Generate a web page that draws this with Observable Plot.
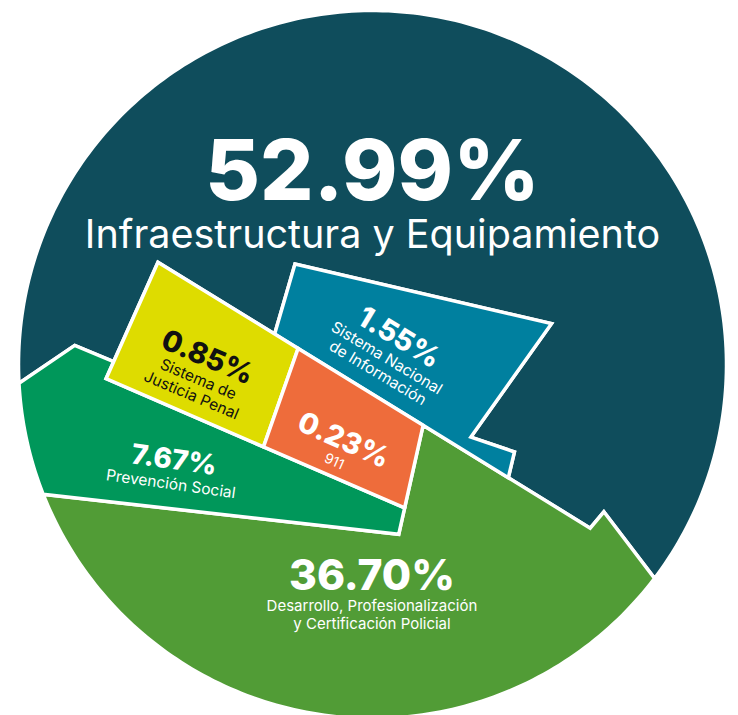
<!DOCTYPE html>
<html>
<head>
<meta charset="utf-8">
<script src="https://cdn.jsdelivr.net/npm/d3@7"></script>
<script src="https://cdn.jsdelivr.net/npm/@observablehq/plot@0.6"></script>
<style>
  html, body { margin: 0; padding: 0; background: #ffffff; }
  #chart { width: 738px; height: 715px; }
</style>
</head>
<body>
<div id="chart"></div>
<script>
// ---------------- data ----------------
const categories = [
  "Infraestructura y Equipamiento",
  "Desarrollo, Profesionalización y Certificación Policial",
  "Prevención Social",
  "Sistema Nacional de Información",
  "Sistema de Justicia Penal",
  "911"
];
const shares = [52.99, 36.70, 7.67, 1.55, 0.85, 0.23];
const labelLines = [
  ["Infraestructura y Equipamiento"],
  ["Desarrollo, Profesionalización", "y Certificación Policial"],
  ["Prevención Social"],
  ["Sistema Nacional", "de Información"],
  ["Sistema de", "Justicia Penal"],
  ["911"]
];

// ---------------- styles ----------------
const fillColors = ["#0f4d5c", "#519c36", "#00975a", "#00809f", "#dedc00", "#ee6c3b"];
const textColors = ["#ffffff", "#ffffff", "#ffffff", "#ffffff", "#111111", "#ffffff"];
const pctSize    = [84, 42.5, 28, 29, 29, 29];
const nameSize   = [39.5, 15, 15.5, 15.5, 15.5, 14];
const firstGap   = [1.22, 1.4, 1.3, 1.25, 1.25, 1.3];
const lineGap    = [1.15, 1.2, 1.15, 1.12, 1.12, 1.12];
const labelAngle = [0, 0, 8, 31, 23, 24];
const FONT = "Inter, 'Noto Sans', 'DejaVu Sans', sans-serif";

// ---------------- layout (unit circle, y pointing down) ----------------
const W = 738, H = 715, CX = 372, CY = 364, RPX = 354;
// which categories lie below the main crack (area of that side follows the data)
const belowCrack = [false, true, true, false, true, true];
const crackAngle = 31.6;
// secondary cuts: [point, angle in degrees]
const cuts = {
  YL: [[-0.611, -0.278], 114.0],
  V1: [[-0.213, -0.037], 109.4],
  R:  [[ 0.142,  0.176], 102.6],
  C:  [[-0.753,  0.040],  23.4],
  D:  [[-0.9375, 0.366],   6.4],
  T1: [[-1.000,  0.054], -34.2],
  T2: [[-0.841, -0.054],  22.8],
  E:  [[-0.219, -0.284],  13.1],
  BL: [[-0.219, -0.284], 106.2],
  BR: [[ 0.506, -0.116], 125.4],
  N1: [[ 0.278,  0.205],  18.9],
  N2: [[ 0.401,  0.247], 103.4],
  QA: [[ 0.605,  0.474], -50.0],
  QB: [[ 0.799,  0.607],  52.7]
};

// ---------------- geometry helpers ----------------
const rad = a => a * Math.PI / 180;
const mkLine = (p, a) => ({p, u: [Math.cos(rad(a)), Math.sin(rad(a))]});
function meet(l1, l2) {
  const [x1, y1] = l1.p, [a1, b1] = l1.u, [x2, y2] = l2.p, [a2, b2] = l2.u;
  const den = a1 * b2 - b1 * a2;
  const t = ((x2 - x1) * b2 - (y2 - y1) * a2) / den;
  return [x1 + t * a1, y1 + t * b1];
}
function onCircle(l, side) {
  const [px, py] = l.p, [ux, uy] = l.u;
  const b = px * ux + py * uy, c = px * px + py * py - 1;
  const t = -b + side * Math.sqrt(b * b - c);
  return [px + t * ux, py + t * uy];
}
function arc(p0, p1) {
  const a0 = Math.atan2(p0[1], p0[0]);
  let a1 = Math.atan2(p1[1], p1[0]);
  while (a1 <= a0) a1 += 2 * Math.PI;
  const n = Math.ceil((a1 - a0) / rad(1));
  return d3.range(n + 1).map(i => {
    const a = a0 + (a1 - a0) * i / n;
    return [Math.cos(a), Math.sin(a)];
  });
}

// main crack: its offset makes the segment below it match the summed shares
const lowerShare = d3.sum(shares.filter((_, i) => belowCrack[i])) / d3.sum(shares);
const segment = d => (Math.acos(d) - d * Math.sqrt(1 - d * d)) / Math.PI;
let lo = 0, hi = 1;
for (let k = 0; k < 60; k++) {
  const m = (lo + hi) / 2;
  if (segment(m) > lowerShare) lo = m; else hi = m;
}
const dCrack = (lo + hi) / 2;
const M = mkLine([-Math.sin(rad(crackAngle)) * dCrack, Math.cos(rad(crackAngle)) * dCrack], crackAngle);
const K = Object.fromEntries(Object.entries(cuts).map(([k, [p, a]]) => [k, mkLine(p, a)]));

const P = {
  T1c: onCircle(K.T1, -1), T1T2: meet(K.T1, K.T2), YLT2: meet(K.YL, K.T2),
  CYL: meet(K.C, K.YL), CV1: meet(K.C, K.V1), RC: meet(K.R, K.C), RD: meet(K.R, K.D),
  Dl: onCircle(K.D, -1), MYL: meet(M, K.YL), MV1: meet(M, K.V1), MR: meet(M, K.R),
  BLM: meet(K.BL, M), EBL: meet(K.E, K.BL), BRE: meet(K.BR, K.E), BRN1: meet(K.BR, K.N1),
  N1N2: meet(K.N1, K.N2), MN2: meet(M, K.N2), Q1: meet(M, K.QA), Q2: meet(K.QA, K.QB),
  Q3: onCircle(K.QB, 1)
};
const regions = [
  [...arc(P.T1c, P.Q3), P.Q2, P.Q1, P.MN2, P.N1N2, P.BRN1, P.BRE, P.EBL, P.BLM, P.MYL, P.YLT2, P.T1T2],
  [...arc(P.Q3, P.Dl), P.RD, P.MR, P.MN2, P.Q1, P.Q2],
  [...arc(P.Dl, P.T1c), P.T1T2, P.YLT2, P.CYL, P.CV1, P.RC, P.RD],
  [P.EBL, P.BRE, P.BRN1, P.N1N2, P.MN2, P.MR, P.MV1, P.BLM],
  [P.MYL, P.MV1, P.CV1, P.CYL],
  [P.MV1, P.MR, P.RC, P.CV1]
];

// ---------------- label placement (largest fitting text block) ----------------
const ctx = document.createElement("canvas").getContext("2d");
function textWidth(s, size, weight) {
  ctx.font = `${weight} ${size}px ${FONT}`;
  return ctx.measureText(s).width;
}
function resample(poly, step) {
  const out = [];
  for (let i = 0; i < poly.length; i++) {
    const a = poly[i], b = poly[(i + 1) % poly.length];
    const n = Math.max(1, Math.ceil(Math.hypot(b[0] - a[0], b[1] - a[1]) / step));
    for (let k = 0; k < n; k++) out.push([a[0] + (b[0] - a[0]) * k / n, a[1] + (b[1] - a[1]) * k / n]);
  }
  return out;
}
function fitLabel(poly, boxes, angle) {
  const cs = Math.cos(rad(angle)), sn = Math.sin(rad(angle));
  const S = resample(poly, 0.005);
  const score = (c, best) => {
    let m = Infinity;
    for (const q of S) {
      const dx = q[0] - c[0], dy = q[1] - c[1];
      const u = Math.abs(dx * cs + dy * sn), v = -dx * sn + dy * cs;
      for (const b of boxes) {
        const r = Math.max(u / b.a, Math.abs(v - b.o) / b.b);
        if (r < m) { m = r; if (m <= best) return m; }
      }
    }
    return m;
  };
  const [x0, x1] = d3.extent(poly, p => p[0]), [y0, y1] = d3.extent(poly, p => p[1]);
  let best = -Infinity, bc = [(x0 + x1) / 2, (y0 + y1) / 2];
  const search = (xa, xb, ya, yb, n) => {
    for (let i = 0; i <= n; i++) for (let j = 0; j <= n; j++) {
      const c = [xa + (xb - xa) * i / n, ya + (yb - ya) * j / n];
      if (!d3.polygonContains(poly, c)) continue;
      const s = score(c, best);
      if (s > best) { best = s; bc = c; }
    }
  };
  search(x0, x1, y0, y1, 48);
  let sx = (x1 - x0) / 48, sy = (y1 - y0) / 48;
  for (let r = 0; r < 2; r++) {
    search(bc[0] - 1.5 * sx, bc[0] + 1.5 * sx, bc[1] - 1.5 * sy, bc[1] + 1.5 * sy, 12);
    sx /= 4; sy /= 4;
  }
  return bc;
}

const pad = 3;
const labelRows = [];
categories.forEach((cat, i) => {
  const ls = [{text: shares[i].toFixed(2) + "%", size: pctSize[i], weight: 800},
              ...labelLines[i].map(t => ({text: t, size: nameSize[i], weight: 400}))];
  let base = 0;
  ls.forEach((l, k) => {
    base = k === 0 ? 0.73 * l.size : base + (k === 1 ? firstGap[i] : lineGap[i]) * l.size;
    l.base = base;
    l.top = base - (k === 0 ? 0.73 : 0.76) * l.size;
    l.bottom = base + (k === 0 ? 0 : 0.2) * l.size;
    l.w = textWidth(l.text, l.size, l.weight);
  });
  const mid = (ls[0].top + ls[ls.length - 1].bottom) / 2;
  const boxes = ls.map(l => ({
    a: (l.w / 2 + pad) / RPX,
    b: ((l.bottom - l.top) / 2 + pad) / RPX,
    o: ((l.top + l.bottom) / 2 - mid) / RPX
  }));
  const c = fitLabel(regions[i], boxes, labelAngle[i]);
  const cs = Math.cos(rad(labelAngle[i])), sn = Math.sin(rad(labelAngle[i]));
  ls.forEach(l => {
    const off = (l.base - mid) / RPX;
    labelRows.push({category: cat, text: l.text, x: c[0] - sn * off, y: c[1] + cs * off,
      rotate: labelAngle[i], size: l.size, weight: l.weight, color: textColors[i]});
  });
});

// ---------------- chart ----------------
const shapeRows = regions.flatMap((poly, i) => poly.map(([x, y]) => ({category: categories[i], x, y})));

const textMarks = [];
for (const w of [800, 400]) for (const col of ["#ffffff", "#111111"]) {
  const rows = labelRows.filter(r => r.weight === w && r.color === col);
  if (rows.length) textMarks.push(Plot.text(rows, {
    x: "x", y: "y", text: "text", rotate: "rotate", fontSize: "size",
    fontWeight: w, fill: col, fontFamily: FONT,
    textAnchor: "middle", lineAnchor: "bottom"
  }));
}

const chart = Plot.plot({
  width: W, height: H, margin: 0,
  x: {domain: [-CX / RPX, (W - CX) / RPX], range: [0, W], axis: null},
  y: {domain: [-CY / RPX, (H - CY) / RPX], range: [0, H], axis: null},
  color: {domain: categories, range: fillColors},
  style: {fontFamily: FONT, background: "#ffffff"},
  marks: [
    Plot.line(shapeRows, {
      x: "x", y: "y", z: "category", fill: "category",
      stroke: "#ffffff", strokeWidth: 3.5, strokeLinejoin: "miter", strokeMiterlimit: 8,
      curve: "linear-closed"
    }),
    ...textMarks
  ]
});
document.getElementById("chart").appendChild(chart);
</script>
</body>
</html>
